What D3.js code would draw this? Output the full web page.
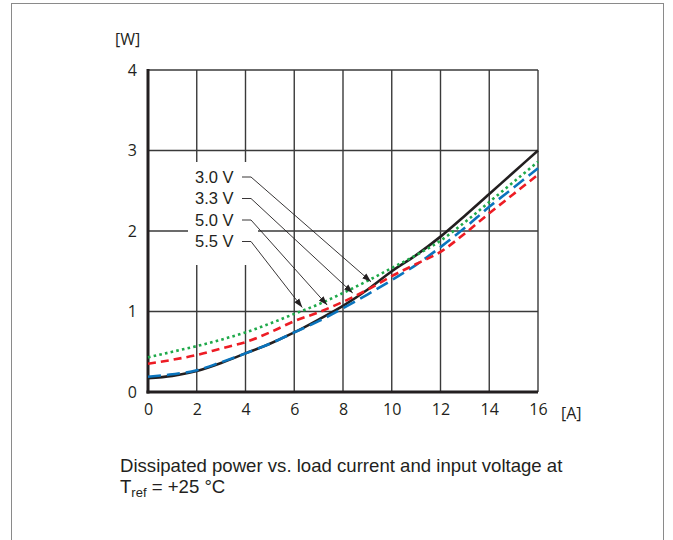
<!DOCTYPE html>
<html>
<head>
<meta charset="utf-8">
<script src="https://cdn.jsdelivr.net/npm/d3@7"></script>
<style>
  body { margin: 0; background: #fff; }
  text { font-family: "Liberation Sans", Arial, sans-serif; fill: #231f20; }
</style>
</head>
<body>
<div id="chart"></div>
<script>
// load current [A]
var current = [0, 1, 2, 3, 4, 5, 6, 7, 8, 9, 10, 11, 12, 13, 14, 15, 16];
// dissipated power [W] per input voltage
var p30 = [0.17, 0.20, 0.26, 0.36, 0.48, 0.60, 0.74, 0.90, 1.07, 1.27, 1.50, 1.70, 1.93, 2.19, 2.46, 2.73, 3.00];
var p33 = [0.19, 0.22, 0.27, 0.37, 0.48, 0.60, 0.74, 0.88, 1.04, 1.21, 1.39, 1.58, 1.80, 2.04, 2.30, 2.54, 2.78];
var p50 = [0.35, 0.40, 0.46, 0.54, 0.62, 0.74, 0.88, 0.99, 1.12, 1.27, 1.44, 1.59, 1.74, 1.97, 2.22, 2.46, 2.70];
var p55 = [0.43, 0.50, 0.57, 0.65, 0.74, 0.85, 0.97, 1.09, 1.23, 1.38, 1.54, 1.70, 1.88, 2.11, 2.36, 2.61, 2.86];

var xTicks = [0, 2, 4, 6, 8, 10, 12, 14, 16];
var yTicks = [0, 1, 2, 3, 4];

var labels = ["3.0 V", "3.3 V", "5.0 V", "5.5 V"];
// where each leader arrow points (A, W)
var arrowA = [9.15, 8.4, 7.35, 6.33];
var arrowW = [1.37, 1.23, 1.08, 1.05];

const W = 673, H = 540;
const marginLeft = 148, marginTop = 70, width = 390, height = 322;

const svg = d3.select("#chart")
    .append("svg")
    .attr("width", W)
    .attr("height", H);

// frame around the figure
svg.append("rect")
    .attr("x", 11.5).attr("y", 3.5)
    .attr("width", 652).attr("height", 560)
    .attr("fill", "none")
    .attr("stroke", "#8a8a8a")
    .attr("stroke-width", 1);

const chart = svg.append('g')
    .attr('transform', `translate(${marginLeft}, ${marginTop})`);

const xScale = d3.scaleLinear().domain([0, 16]).range([0, width]);
const yScale = d3.scaleLinear().domain([0, 4]).range([height, 0]);

// grid
chart.append('g')
    .selectAll('line')
    .data(xTicks.slice(1))
    .enter()
    .append('line')
    .attr('x1', d => xScale(d)).attr('x2', d => xScale(d))
    .attr('y1', 0).attr('y2', height)
    .attr('stroke', '#3a3a3a')
    .attr('stroke-width', 1.4);

chart.append('g')
    .selectAll('line')
    .data(yTicks.slice(1))
    .enter()
    .append('line')
    .attr('x1', 0).attr('x2', width)
    .attr('y1', d => yScale(d)).attr('y2', d => yScale(d))
    .attr('stroke', '#3a3a3a')
    .attr('stroke-width', 1.4);

// white box behind the voltage labels
chart.append('rect')
    .attr('x', 40).attr('y', 92)
    .attr('width', 70).attr('height', 103)
    .attr('fill', '#fff');

// axes
const xAxis = chart.append('g')
    .attr('transform', `translate(0, ${height})`)
    .call(d3.axisBottom(xScale).tickValues(xTicks).tickSize(0).tickPadding(12).tickFormat(d3.format('d')));
const yAxis = chart.append('g')
    .call(d3.axisLeft(yScale).tickValues(yTicks).tickSize(0).tickPadding(11).tickFormat(d3.format('d')));

[xAxis, yAxis].forEach(a => {
    a.select('.domain').remove();
    a.selectAll('text')
        .style('font-family', '"Open Sans", "Liberation Sans", sans-serif')
        .style('font-size', '16px')
        .attr('fill', '#231f20');
});

chart.append('line')
    .attr('x1', 0).attr('x2', 0).attr('y1', -1).attr('y2', height + 1.5)
    .attr('stroke', '#231f20').attr('stroke-width', 3);
chart.append('line')
    .attr('x1', -1.5).attr('x2', width).attr('y1', height).attr('y2', height)
    .attr('stroke', '#231f20').attr('stroke-width', 3);

// curves
const line = d3.line()
    .x((d, i) => xScale(current[i]))
    .y(d => yScale(d))
    .curve(d3.curveMonotoneX);

var series = [
    { v: p30, color: '#231f20', dash: null },
    { v: p33, color: '#0a74bd', dash: '13,6' },
    { v: p50, color: '#ed1c24', dash: '8,5' },
    { v: p55, color: '#1fa94a', dash: '2.6,3.2' }
];

series.forEach(s => {
    chart.append('path')
        .attr('d', line(s.v))
        .attr('fill', 'none')
        .attr('stroke', s.color)
        .attr('stroke-width', 2.6)
        .attr('stroke-dasharray', s.dash);
});

// leader lines with arrows
svg.append('defs').append('marker')
    .attr('id', 'arrow')
    .attr('viewBox', '0 0 10 10')
    .attr('refX', 10).attr('refY', 5)
    .attr('markerWidth', 9).attr('markerHeight', 9)
    .attr('markerUnits', 'userSpaceOnUse')
    .attr('orient', 'auto')
    .append('path')
    .attr('d', 'M0,1.5 L10,5 L0,8.5 Z')
    .attr('fill', '#231f20');

labels.forEach((t, i) => {
    const ly = 107 + i * 21.5;
    chart.append('text')
        .text(t)
        .attr('x', 47)
        .attr('y', ly)
        .attr('dy', '0.36em')
        .style('font-size', '16.5px');
    chart.append('path')
        .attr('d', `M94,${ly} L103,${ly} L${xScale(arrowA[i])},${yScale(arrowW[i])}`)
        .attr('fill', 'none')
        .attr('stroke', '#231f20')
        .attr('stroke-width', 0.9)
        .attr('marker-end', 'url(#arrow)');
});

// unit labels
svg.append('text')
    .text('[W]')
    .attr('x', 115).attr('y', 45)
    .style('font-family', '"Open Sans", "Liberation Sans", sans-serif')
    .style('font-size', '16px');
svg.append('text')
    .text('[A]')
    .attr('x', 561).attr('y', 419)
    .style('font-family', '"Open Sans", "Liberation Sans", sans-serif')
    .style('font-size', '16px');

// caption
svg.append('text')
    .text('Dissipated power vs. load current and input voltage at')
    .attr('x', 120).attr('y', 472)
    .style('font-size', '18.6px');

const cap2 = svg.append('text')
    .attr('x', 120).attr('y', 493)
    .style('font-size', '18.6px');
cap2.append('tspan').text('T');
cap2.append('tspan').text('ref').attr('dy', 4).style('font-size', '13px');
cap2.append('tspan').text(' = +25 °C').attr('dy', -4);
</script>
</body>
</html>
